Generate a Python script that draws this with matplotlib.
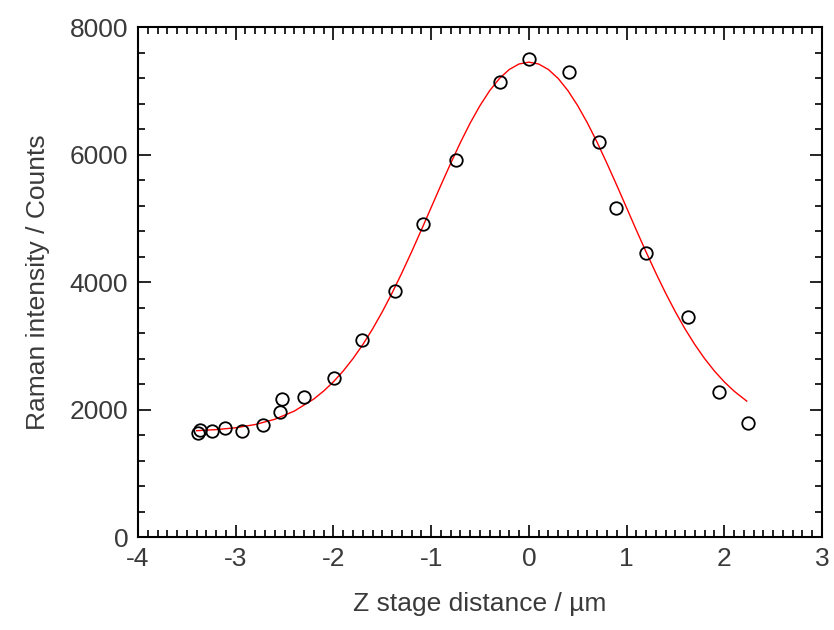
import matplotlib
matplotlib.use("Agg")
import matplotlib.pyplot as plt
from matplotlib.ticker import MultipleLocator

plt.rcParams["font.family"] = ["Liberation Sans", "DejaVu Sans"]
plt.rcParams["axes.unicode_minus"] = False

# measured points (z position in um, Raman counts)
z_points = [-3.39, -3.37, -3.24, -3.11, -2.94, -2.72, -2.55, -2.53, -2.30,
            -1.99, -1.71, -1.37, -1.08, -0.745, -0.295, 0.0, 0.41, 0.72,
            0.89, 1.20, 1.63, 1.95, 2.24]
counts = [1630, 1680, 1663, 1710, 1663, 1757, 1961, 2165, 2196,
          2494, 3090, 3859, 4910, 5914, 7137, 7498, 7294, 6196,
          5161, 4455, 3451, 2275, 1788]

# fitted curve
z_fit = [-3.4, -3.2, -3.0, -2.8, -2.6, -2.4, -2.2, -2.1, -2.0, -1.9, -1.8,
         -1.7, -1.6, -1.5, -1.4, -1.3, -1.2, -1.1, -1.0, -0.9, -0.8, -0.7,
         -0.6, -0.5, -0.4, -0.3, -0.2, -0.1, 0.0, 0.1, 0.2, 0.3, 0.4, 0.5,
         0.6, 0.7, 0.8, 0.9, 1.0, 1.1, 1.2, 1.3, 1.4, 1.5, 1.6, 1.7, 1.8,
         1.9, 2.0, 2.1, 2.23]
counts_fit = [1668, 1685, 1714, 1765, 1847, 1976, 2166, 2290, 2435, 2604,
              2798, 3017, 3262, 3533, 3827, 4142, 4473, 4817, 5168, 5519,
              5861, 6190, 6495, 6768, 7004, 7195, 7335, 7421, 7450, 7421,
              7335, 7195, 7004, 6768, 6495, 6190, 5861, 5519, 5168, 4817,
              4473, 4142, 3827, 3533, 3262, 3017, 2798, 2604, 2435, 2290,
              2133]

fig = plt.figure(figsize=(8.34, 6.3), dpi=100)
ax = fig.add_axes([0.1655, 0.1476, 0.82, 0.8094])

ax.plot(z_fit, counts_fit, color="red", lw=1.0)
ax.plot(z_points, counts, "o", ms=9, mfc="none", mec="black", mew=1.3)

ax.set_xlim(-4, 3)
ax.set_ylim(0, 8000)
ax.xaxis.set_major_locator(MultipleLocator(1))
ax.xaxis.set_minor_locator(MultipleLocator(0.1))
ax.yaxis.set_major_locator(MultipleLocator(2000))
ax.yaxis.set_minor_locator(MultipleLocator(400))
ax.tick_params(which="both", direction="in", top=True, right=True,
               labelsize=19, labelcolor="#3a3a3a", width=1.2)
ax.tick_params(which="major", length=9, pad=7)
ax.tick_params(which="minor", length=5)
for s in ax.spines.values():
    s.set_linewidth(1.5)

ax.set_xlabel("Z stage distance / µm", fontsize=19, color="#3a3a3a", labelpad=15)
ax.set_ylabel("Raman intensity / Counts", fontsize=19, color="#3a3a3a", labelpad=14)

fig.savefig("out.png", dpi=100)
